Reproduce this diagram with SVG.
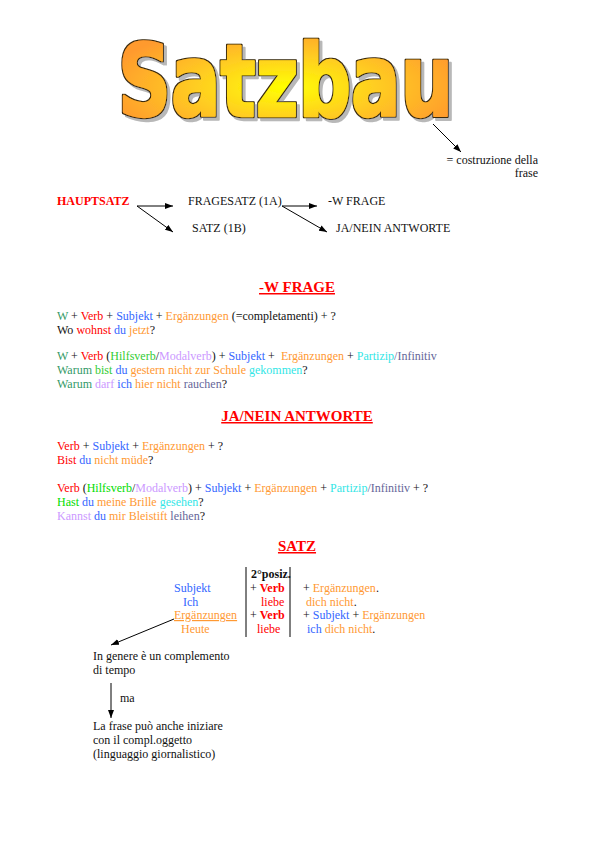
<svg xmlns="http://www.w3.org/2000/svg" width="596" height="842" viewBox="0 0 596 842">
<style>
.t{font-family:"Liberation Serif","Times New Roman",serif;font-size:12px;fill:#111}
.r{fill:#ff0000}.b{fill:#3366ff}.o{fill:#ff9933}.g{fill:#339966}.lg{fill:#33cc33}.hg{fill:#00dd00}.l{fill:#cc99ff}.c{fill:#33e6e6}.p{fill:#666699}.k{fill:#111}
.bold{font-weight:bold}
.h{font-family:"Liberation Serif","Times New Roman",serif;font-size:15px;font-weight:bold;fill:#ff0000;text-anchor:middle;text-decoration:underline}
.ln{stroke:#000;stroke-width:1;fill:none}
.title{font-family:"DejaVu Sans","Liberation Sans",sans-serif;font-weight:bold;font-size:100px}
</style>
<defs>
<marker id="ah" markerWidth="8" markerHeight="6" refX="8" refY="3" orient="auto" markerUnits="userSpaceOnUse">
<path d="M0,0 L8,3 L0,6 Z" fill="#000"/>
</marker>
<radialGradient id="gold" cx="0.5" cy="0.55" r="0.55">
<stop offset="0" stop-color="#ffff00"/>
<stop offset="0.5" stop-color="#ffcc22"/>
<stop offset="1" stop-color="#ff9a2e"/>
</radialGradient>
<filter id="wordart" x="-5%" y="-10%" width="115%" height="130%">
<feMorphology in="SourceAlpha" operator="dilate" radius="1.2" result="thick"/>
<feFlood flood-color="#3a2a10" result="dark"/>
<feComposite in="dark" in2="thick" operator="in" result="outline"/>
<feOffset in="thick" dx="3" dy="3" result="off"/>
<feFlood flood-color="#b8b8b8" result="gray"/>
<feComposite in="gray" in2="off" operator="in" result="shadow"/>
<feMerge>
<feMergeNode in="shadow"/>
<feMergeNode in="outline"/>
<feMergeNode in="SourceGraphic"/>
</feMerge>
</filter>
</defs>

<g id="title">
<text class="title" x="118" y="116" textLength="335" lengthAdjust="spacingAndGlyphs" fill="url(#gold)" stroke="url(#gold)" stroke-width="2.4" stroke-linejoin="round" filter="url(#wordart)">Satzbau</text>
</g>

<g id="note-costruzione">
<text class="t" x="538" y="164" text-anchor="end">= costruzione della</text>
<text class="t" x="538" y="177" text-anchor="end">frase</text>
</g>

<g id="hauptsatz"><text class="t bold r" x="57" y="205">HAUPTSATZ</text></g>
<g id="fragesatz"><text class="t" x="188" y="205">FRAGESATZ (1A)</text></g>
<g id="satz1b"><text class="t" x="192" y="232">SATZ (1B)</text></g>
<g id="wfrage"><text class="t" x="328" y="205">-W FRAGE</text></g>
<g id="janein"><text class="t" x="336" y="232">JA/NEIN ANTWORTE</text></g>

<g id="connectors">
<line class="ln" x1="433" y1="124" x2="461" y2="152" marker-end="url(#ah)"/>
<line class="ln" x1="137" y1="206" x2="173" y2="206" marker-end="url(#ah)"/>
<line class="ln" x1="137" y1="206" x2="173" y2="232" marker-end="url(#ah)"/>
<line class="ln" x1="282" y1="206" x2="317" y2="206" marker-end="url(#ah)"/>
<line class="ln" x1="282" y1="206" x2="327" y2="232" marker-end="url(#ah)"/>
<line class="ln" x1="174" y1="619" x2="111" y2="645" marker-end="url(#ah)"/>
<line class="ln" x1="111" y1="683" x2="111" y2="718" marker-end="url(#ah)"/>
</g>

<g id="section-wfrage">
<text class="h" x="297" y="292">-W FRAGE</text>
<text class="t" x="57" y="320" xml:space="preserve"><tspan class="g">W</tspan> + <tspan class="r">Verb</tspan> + <tspan class="b">Subjekt</tspan> + <tspan class="o">Ergänzungen</tspan> (=completamenti) + ?</text>
<text class="t" x="57" y="334" xml:space="preserve">Wo <tspan class="r">wohnst</tspan> <tspan class="b">du</tspan> <tspan class="o">jetzt</tspan>?</text>
<text class="t" x="57" y="360" xml:space="preserve"><tspan class="g">W</tspan> + <tspan class="r">Verb</tspan> (<tspan class="lg">Hilfsverb</tspan>/<tspan class="l">Modalverb</tspan>) + <tspan class="b">Subjekt</tspan> +  <tspan class="o">Ergänzungen</tspan> + <tspan class="c">Partizip</tspan><tspan class="p">/Infinitiv</tspan></text>
<text class="t" x="57" y="374" xml:space="preserve"><tspan class="g">Warum</tspan> <tspan class="lg">bist</tspan> <tspan class="b">du</tspan> <tspan class="o">gestern nicht zur Schule</tspan> <tspan class="c">gekommen</tspan>?</text>
<text class="t" x="57" y="388" xml:space="preserve"><tspan class="g">Warum</tspan> <tspan class="l">darf</tspan> <tspan class="b">ich</tspan> <tspan class="o">hier nicht</tspan> <tspan class="p">rauchen</tspan>?</text>
</g>

<g id="section-janein">
<text class="h" x="297" y="421">JA/NEIN ANTWORTE</text>
<text class="t" x="57" y="450" xml:space="preserve"><tspan class="r">Verb</tspan> + <tspan class="b">Subjekt</tspan> + <tspan class="o">Ergänzungen</tspan> + ?</text>
<text class="t" x="57" y="464" xml:space="preserve"><tspan class="r">Bist</tspan> <tspan class="b">du</tspan> <tspan class="o">nicht müde</tspan>?</text>
<text class="t" x="57" y="492" xml:space="preserve"><tspan class="r">Verb</tspan> (<tspan class="hg">Hilfsverb</tspan>/<tspan class="l">Modalverb</tspan>) + <tspan class="b">Subjekt</tspan> + <tspan class="o">Ergänzungen</tspan> + <tspan class="c">Partizip</tspan><tspan class="p">/Infinitiv</tspan> + ?</text>
<text class="t" x="57" y="506" xml:space="preserve"><tspan class="hg">Hast</tspan> <tspan class="b">du</tspan> <tspan class="o">meine Brille</tspan> <tspan class="c">gesehen</tspan>?</text>
<text class="t" x="57" y="520" xml:space="preserve"><tspan class="l">Kannst</tspan> <tspan class="b">du</tspan> <tspan class="o">mir Bleistift</tspan> <tspan class="p">leihen</tspan>?</text>
</g>

<g id="section-satz">
<text class="h" x="297" y="551">SATZ</text>
<line class="ln" x1="246" y1="567" x2="246" y2="637"/>
<line class="ln" x1="290" y1="567" x2="290" y2="637"/>
<text class="t bold" x="251" y="578">2°posiz.</text>
<text class="t b" x="174" y="592">Subjekt</text>
<text class="t b" x="183" y="606">Ich</text>
<text class="t o" x="174" y="619" text-decoration="underline">Ergänzungen</text>
<text class="t o" x="181" y="633">Heute</text>
<text class="t" x="250" y="592">+ <tspan class="r bold">Verb</tspan></text>
<text class="t r" x="261" y="606">liebe</text>
<text class="t" x="250" y="619">+ <tspan class="r bold">Verb</tspan></text>
<text class="t r" x="257" y="633">liebe</text>
<text class="t" x="303" y="592">+ <tspan class="o">Ergänzungen</tspan>.</text>
<text class="t" x="306" y="606"><tspan class="o">dich nicht</tspan>.</text>
<text class="t" x="303" y="619" xml:space="preserve">+ <tspan class="b">Subjekt</tspan> + <tspan class="o">Ergänzungen</tspan></text>
<text class="t" x="307" y="633" xml:space="preserve"><tspan class="b">ich</tspan> <tspan class="o">dich nicht</tspan>.</text>
</g>

<g id="note-tempo">
<text class="t" x="93" y="660">In genere è un complemento</text>
<text class="t" x="93" y="674">di tempo</text>
</g>
<g id="label-ma"><text class="t" x="120" y="702">ma</text></g>
<g id="note-oggetto">
<text class="t" x="93" y="730">La frase può anche iniziare</text>
<text class="t" x="93" y="744">con il compl.oggetto</text>
<text class="t" x="93" y="758">(linguaggio giornalistico)</text>
</g>
</svg>
